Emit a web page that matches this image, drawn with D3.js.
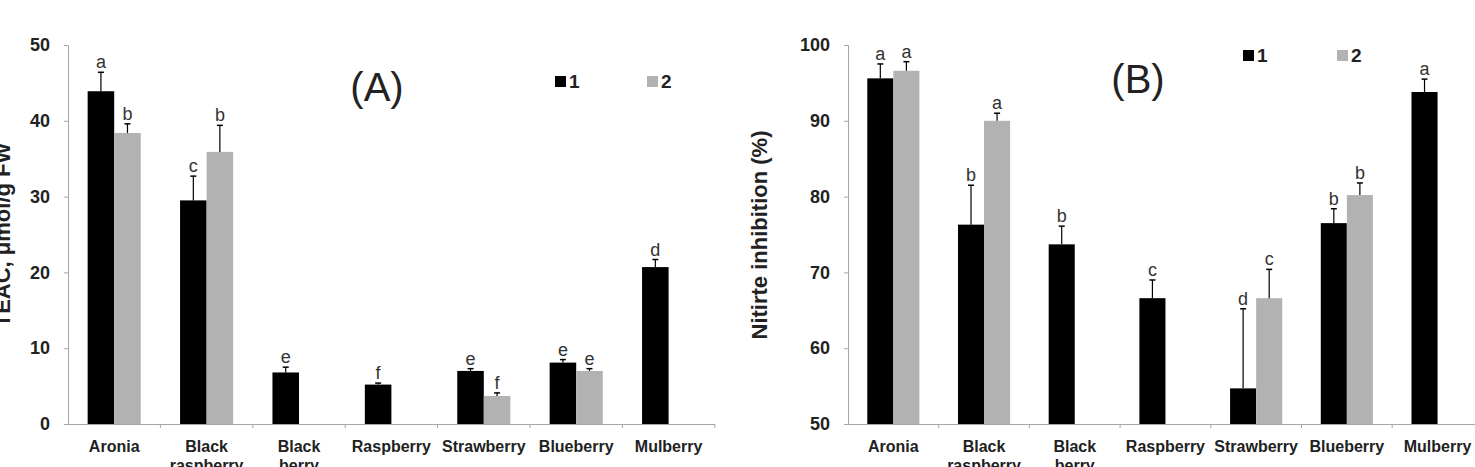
<!DOCTYPE html>
<html>
<head>
<meta charset="utf-8">
<script src="https://cdn.jsdelivr.net/npm/d3@7"></script>
<style>
  body { margin: 0; background: #fff; }
  text { font-family: "Liberation Sans", Arial, sans-serif; }
</style>
</head>
<body>
<div id="chart"></div>
<script>
// categories
var fruits = ["Aronia", "Black raspberry", "Black berry", "Raspberry", "Strawberry", "Blueberry", "Mulberry"];
var seriesNames = ["1", "2"];

// panel A : TEAC
var teac1 = [43.9, 29.5, 6.8, 5.2, 7.0, 8.1, 20.7];
var teac1Err = [2.5, 3.2, 0.7, 0.2, 0.3, 0.4, 1.0];
var teac1Sig = ["a", "c", "e", "f", "e", "e", "d"];
var teac2 = [38.4, 35.9, null, null, 3.7, 7.0, null];
var teac2Err = [1.2, 3.5, null, null, 0.4, 0.3, null];
var teac2Sig = ["b", "b", null, null, "f", "e", null];
var teacTicks = [0, 10, 20, 30, 40, 50];

// panel B : nitrite inhibition
var nitr1 = [95.6, 76.3, 73.7, 66.6, 54.7, 76.5, 93.8];
var nitr1Err = [1.9, 5.2, 2.4, 2.4, 10.5, 1.9, 1.7];
var nitr1Sig = ["a", "b", "b", "c", "d", "b", "a"];
var nitr2 = [96.6, 90.0, null, null, 66.6, 80.2, null];
var nitr2Err = [1.2, 1.0, null, null, 3.8, 1.6, null];
var nitr2Sig = ["a", "a", null, null, "c", "b", null];
var nitrTicks = [50, 60, 70, 80, 90, 100];

var width = 1475, height = 467;
var colors = ["#000000", "#b2b2b2"];
var axisColor = "#a6a6a6";

var svg = d3.select("#chart").append("svg")
    .attr("width", width)
    .attr("height", height)
    .style("display", "block");

function rows(v1, e1, s1, v2, e2, s2) {
  var out = [];
  fruits.forEach(function(f, i) {
    if (v1[i] != null) out.push({ cat: f, s: "1", v: v1[i], e: e1[i], sig: s1[i] });
    if (v2[i] != null) out.push({ cat: f, s: "2", v: v2[i], e: e2[i], sig: s2[i] });
  });
  return out;
}

function drawPanel(p) {
  var g = svg.append("g");

  var x = d3.scaleBand().domain(fruits).range([p.left, p.left + p.step * fruits.length]);
  var x1 = d3.scaleBand().domain(seriesNames).range([0, x.bandwidth()]).paddingOuter(0.74);
  var y = d3.scaleLinear().domain(p.domain).range([424, 45]);

  // y axis
  var yAxis = g.append("g")
      .attr("transform", "translate(" + p.left + ",0)")
      .call(d3.axisLeft(y).tickValues(p.ticks).tickSize(4).tickPadding(14));
  yAxis.select(".domain").attr("stroke", axisColor);
  yAxis.selectAll(".tick line").attr("stroke", axisColor);
  yAxis.selectAll(".tick text")
      .attr("font-size", 18).attr("font-weight", "bold").attr("fill", "#222")
      .style("font-family", "'Liberation Sans', Arial, sans-serif");

  // x axis line and boundary ticks
  var xEnd = Math.min(p.left + p.step * fruits.length, width);
  g.append("line")
      .attr("x1", p.left).attr("x2", xEnd)
      .attr("y1", y(p.domain[0]) + 0.5).attr("y2", y(p.domain[0]) + 0.5)
      .attr("stroke", axisColor);
  g.selectAll(".xtick")
      .data(fruits.slice(1).concat(["end"]))
      .enter().append("line")
      .attr("x1", function(d, i) { return x(fruits[0]) + x.step() * (i + 1); })
      .attr("x2", function(d, i) { return x(fruits[0]) + x.step() * (i + 1); })
      .attr("y1", y(p.domain[0])).attr("y2", y(p.domain[0]) + 4)
      .attr("stroke", axisColor);

  // category labels
  var lab = g.selectAll(".xlab")
      .data(fruits)
      .enter().append("text")
      .attr("text-anchor", "middle")
      .attr("font-size", 16).attr("font-weight", "bold").attr("fill", "#222")
      .attr("x", function(d) { return x(d) + x.bandwidth() / 2; })
      .attr("y", 452);
  lab.selectAll("tspan")
      .data(function(d) { return d.split(" "); })
      .enter().append("tspan")
      .attr("x", function() { var c = d3.select(this.parentNode).datum(); return x(c) + x.bandwidth() / 2; })
      .attr("dy", function(d, i) { return i ? 19 : 0; })
      .text(function(d) { return d; });

  var data = rows(p.v1, p.e1, p.s1, p.v2, p.e2, p.s2);

  // bars
  g.selectAll(".bar")
      .data(data)
      .enter().append("rect")
      .attr("x", function(d) { return x(d.cat) + x1(d.s); })
      .attr("width", x1.bandwidth())
      .attr("y", function(d) { return y(d.v); })
      .attr("height", function(d) { return y(p.domain[0]) - y(d.v); })
      .attr("fill", function(d) { return colors[seriesNames.indexOf(d.s)]; });

  // error bars (upper only)
  var eb = g.selectAll(".err")
      .data(data)
      .enter().append("g")
      .attr("transform", function(d) { return "translate(" + (x(d.cat) + x1(d.s) + x1.bandwidth() / 2) + ",0)"; });
  eb.append("line")
      .attr("x1", 0).attr("x2", 0)
      .attr("y1", function(d) { return y(d.v); })
      .attr("y2", function(d) { return y(d.v + d.e); })
      .attr("stroke", "#000").attr("stroke-width", 1.2);
  eb.append("line")
      .attr("x1", -3).attr("x2", 3)
      .attr("y1", function(d) { return y(d.v + d.e); })
      .attr("y2", function(d) { return y(d.v + d.e); })
      .attr("stroke", "#000").attr("stroke-width", 1.5);
  eb.append("text")
      .attr("text-anchor", "middle")
      .attr("font-size", 18).attr("fill", "#333")
      .attr("y", function(d) { return y(d.v + d.e) - 4; })
      .text(function(d) { return d.sig; });

  // y title
  g.append("text")
      .attr("transform", "translate(" + p.titleX + ",235) rotate(-90)")
      .attr("text-anchor", "middle")
      .attr("font-size", 22).attr("font-weight", "bold").attr("fill", "#222")
      .text(p.yTitle);

  // panel label
  g.append("text")
      .attr("x", p.labelX).attr("y", p.labelY)
      .attr("text-anchor", "middle")
      .attr("font-size", 40).attr("fill", "#222")
      .text(p.label);

  // legend
  var leg = g.selectAll(".leg")
      .data(seriesNames)
      .enter().append("g")
      .attr("transform", function(d, i) { return "translate(" + p.legendX[i] + "," + p.legendY + ")"; });
  leg.append("rect")
      .attr("x", 0).attr("y", -12).attr("width", 11).attr("height", 11)
      .attr("fill", function(d, i) { return colors[i]; });
  leg.append("text")
      .attr("x", 14).attr("y", 0)
      .attr("font-size", 19).attr("font-weight", "bold").attr("fill", "#222")
      .text(function(d) { return d; });
}

drawPanel({
  left: 68, step: 92.4, domain: [0, 50], ticks: teacTicks,
  v1: teac1, e1: teac1Err, s1: teac1Sig, v2: teac2, e2: teac2Err, s2: teac2Sig,
  yTitle: "TEAC, \u03bcmol/g FW", titleX: 10,
  label: "(A)", labelX: 377, labelY: 101,
  legendX: [555, 647], legendY: 88
});

drawPanel({
  left: 848, step: 90.7, domain: [50, 100], ticks: nitrTicks,
  v1: nitr1, e1: nitr1Err, s1: nitr1Sig, v2: nitr2, e2: nitr2Err, s2: nitr2Sig,
  yTitle: "Nitirte inhibition (%)", titleX: 767,
  label: "(B)", labelX: 1138, labelY: 93,
  legendX: [1243, 1337], legendY: 62
});
</script>
</body>
</html>
